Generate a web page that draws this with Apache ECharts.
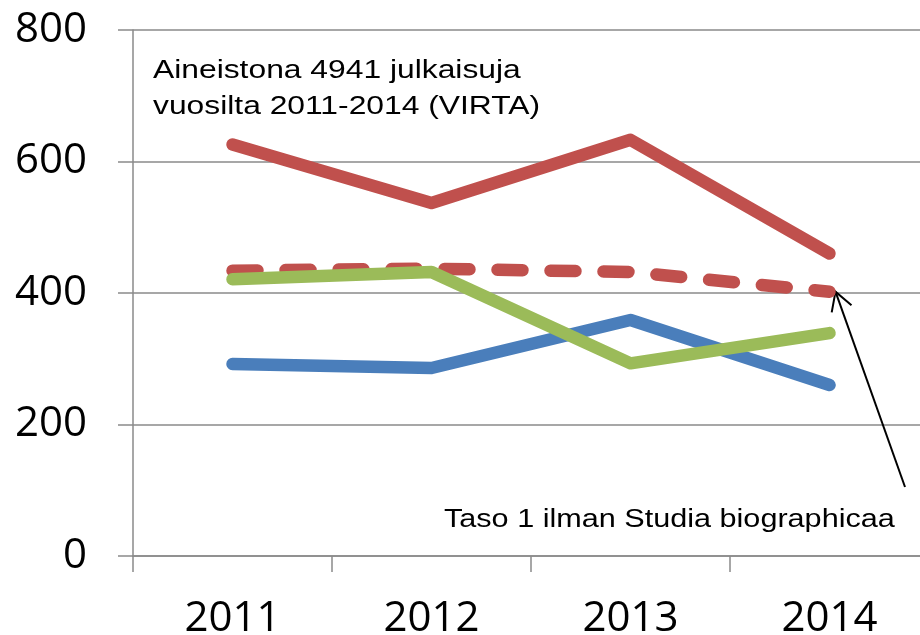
<!DOCTYPE html>
<html>
<head>
<meta charset="utf-8">
<script src="https://cdn.jsdelivr.net/npm/echarts@6/dist/echarts.min.js"></script>
<style>
  html, body { margin: 0; padding: 0; background: #fff; }
  #chart { width: 920px; height: 635px; }
</style>
</head>
<body>
<div id="chart"></div>
<script>
var years = ['2011', '2012', '2013', '2014'];
var yTicks = [0, 200, 400, 600, 800];
var redTotal = [626, 537, 633, 460];
var redLevel1 = [434, 437, 432, 402];
var greenValues = [421, 432, 293, 339];
var blueValues = [292, 286, 359, 260];

var gridColor = '#8a8a8a';

var dom = document.getElementById('chart');
var myChart = echarts.init(dom, null, { renderer: 'canvas' });

function lineSeries(name, data, color, dashed) {
  return {
    name: name,
    type: 'line',
    data: data,
    showSymbol: false,
    silent: true,
    lineStyle: {
      color: color,
      width: 12.5,
      cap: 'round',
      join: 'round',
      type: dashed ? [25, 28] : 'solid'
    }
  };
}

var option = {
  animation: false,
  backgroundColor: '#fff',
  grid: { left: 133, right: -9, top: 30, bottom: 79, outerBoundsMode: 'none', containLabel: false },
  xAxis: {
    type: 'category',
    data: years,
    boundaryGap: true,
    axisLine: { lineStyle: { color: gridColor, width: 1.5 } },
    axisTick: { show: true, length: 16, lineStyle: { color: gridColor, width: 1.5 } },
    axisLabel: {
      margin: 42,
      fontFamily: 'Open Sans',
      fontSize: 42,
      color: '#000'
    }
  },
  yAxis: {
    type: 'value',
    min: yTicks[0],
    max: yTicks[yTicks.length - 1],
    interval: 200,
    axisLine: { show: true, lineStyle: { color: gridColor, width: 1.5 } },
    axisTick: { show: true, length: 15, lineStyle: { color: gridColor, width: 1.5 } },
    splitLine: { lineStyle: { color: gridColor, width: 1.5 } },
    axisLabel: {
      margin: 46,
      fontFamily: 'Open Sans',
      fontSize: 42,
      color: '#000'
    }
  },
  series: [
    lineSeries('Taso 1 ilman Studia biographicaa', redLevel1, '#c0504d', true),
    lineSeries('Sininen', blueValues, '#4a7ebb', false),
    lineSeries('Vihreä', greenValues, '#9bbb59', false),
    lineSeries('Punainen', redTotal, '#c0504d', false)
  ]
};

myChart.setOption(option);

// annotations: text boxes and the arrow pointing at the dashed line's last point
var tip = myChart.convertToPixel({ seriesIndex: 0 }, [years.length - 1, redLevel1[redLevel1.length - 1]]);
var tipX = tip[0] + 6, tipY = tip[1];
var tailX = 905, tailY = 487;
var ang = Math.atan2(tailY - tipY, tailX - tipX);
var armLen = 21, spread = Math.PI / 6;

myChart.setOption({
  graphic: [
    {
      type: 'text', x: 153, y: 53, scaleX: 1.2, silent: true,
      style: {
        text: 'Aineistona 4941 julkaisuja\nvuosilta 2011-2014 (VIRTA)',
        font: '26.5px "Liberation Sans", Arial, sans-serif',
        lineHeight: 36,
        fill: '#000'
      }
    },
    {
      type: 'text', x: 444, y: 505, scaleX: 1.2, silent: true,
      style: {
        text: 'Taso 1 ilman Studia biographicaa',
        font: '25.5px "Liberation Sans", Arial, sans-serif',
        lineHeight: 30,
        fill: '#000'
      }
    },
    {
      type: 'line', silent: true,
      shape: { x1: tailX, y1: tailY, x2: tipX, y2: tipY },
      style: { stroke: '#000', lineWidth: 2 }
    },
    {
      type: 'polyline', silent: true,
      shape: {
        points: [
          [tipX + armLen * Math.cos(ang - spread), tipY + armLen * Math.sin(ang - spread)],
          [tipX, tipY],
          [tipX + armLen * Math.cos(ang + spread), tipY + armLen * Math.sin(ang + spread)]
        ]
      },
      style: { stroke: '#000', lineWidth: 2, fill: null }
    }
  ]
});

window.addEventListener('resize', myChart.resize);
</script>
</body>
</html>
